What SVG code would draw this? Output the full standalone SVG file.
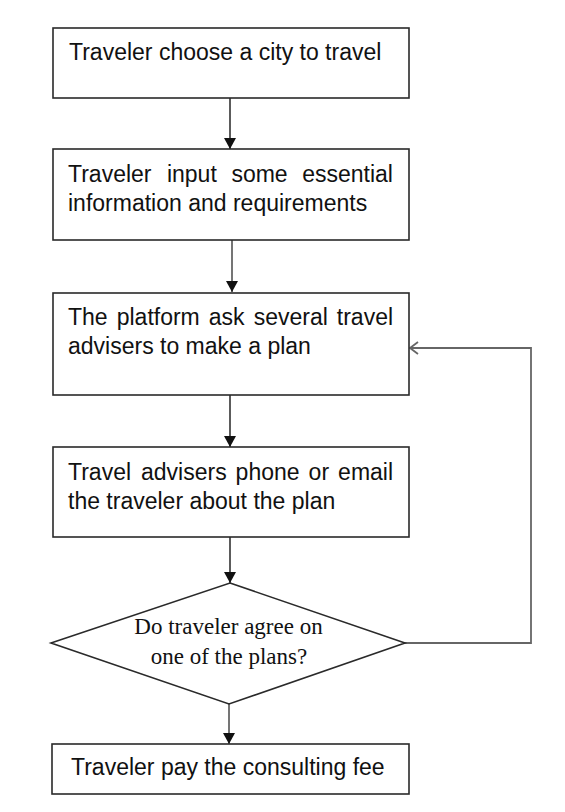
<svg xmlns="http://www.w3.org/2000/svg" width="565" height="812" viewBox="0 0 565 812">
<style>
.box{fill:#fff;stroke:#2a2a2a;stroke-width:1.6}
.t{font-family:"Liberation Sans",Arial,sans-serif;font-size:23px;fill:#111}
.s{font-family:"Liberation Serif","Times New Roman",serif;font-size:23px;fill:#111;text-anchor:middle}
.c{fill:none;stroke:#333;stroke-width:1.6}
.g{fill:none;stroke:#666;stroke-width:1.8}
</style>
<defs>
<marker id="ah" markerWidth="11" markerHeight="12" refX="11" refY="6" orient="auto" markerUnits="userSpaceOnUse"><path d="M0,0 L11,6 L0,12 Z" fill="#111"/></marker>
<marker id="oh" markerWidth="12" markerHeight="14" refX="10" refY="7" orient="auto" markerUnits="userSpaceOnUse" overflow="visible"><path d="M2,1 L10,7 L2,13" fill="none" stroke="#666" stroke-width="1.8"/></marker>
</defs>
<rect width="565" height="812" fill="#fff"/>
<g id="connectors">
<line class="c" x1="230" y1="98" x2="230" y2="149" marker-end="url(#ah)"/>
<line class="g" x1="232" y1="240" x2="232" y2="292" marker-end="url(#ah)"/>
<line class="c" x1="230" y1="395" x2="230" y2="447" marker-end="url(#ah)"/>
<line class="c" x1="230" y1="537" x2="230" y2="583" marker-end="url(#ah)"/>
<line class="g" x1="229" y1="704" x2="229" y2="744" marker-end="url(#ah)"/>
<polyline class="g" points="405,643 531,643 531,348 410,348" marker-end="url(#oh)"/>
</g>
<g id="n1">
<rect class="box" x="53" y="28" width="356" height="70"/>
<text class="t" x="69" y="60">Traveler choose a city to travel</text>
</g>
<g id="n2">
<rect class="box" x="53" y="149" width="356" height="91"/>
<text class="t" y="182"><tspan x="68">Traveler</tspan><tspan x="166.9">input</tspan><tspan x="231.4">some</tspan><tspan x="302.2">essential</tspan></text>
<text class="t" x="68" y="211">information and requirements</text>
</g>
<g id="n3">
<rect class="box" x="53" y="293" width="356" height="102"/>
<text class="t" y="325"><tspan x="68">The</tspan><tspan x="116.7">platform</tspan><tspan x="208.8">ask</tspan><tspan x="253.7">several</tspan><tspan x="336.8">travel</tspan></text>
<text class="t" x="68" y="354">advisers to make a plan</text>
</g>
<g id="n4">
<rect class="box" x="53" y="447" width="356" height="90"/>
<text class="t" y="480"><tspan x="68">Travel</tspan><tspan x="141">advisers</tspan><tspan x="235.6">phone</tspan><tspan x="308.6">or</tspan><tspan x="338.1">email</tspan></text>
<text class="t" x="68" y="509">the traveler about the plan</text>
</g>
<g id="n5">
<polygon class="box" points="230,583 405,643 229,704 51,643"/>
<text class="s" x="228.5" y="634">Do traveler agree on</text>
<text class="s" x="229" y="664">one of the plans?</text>
</g>
<g id="n6">
<rect class="box" x="52" y="744" width="357" height="50"/>
<text class="t" x="71" y="775">Traveler pay the consulting fee</text>
</g>
</svg>
